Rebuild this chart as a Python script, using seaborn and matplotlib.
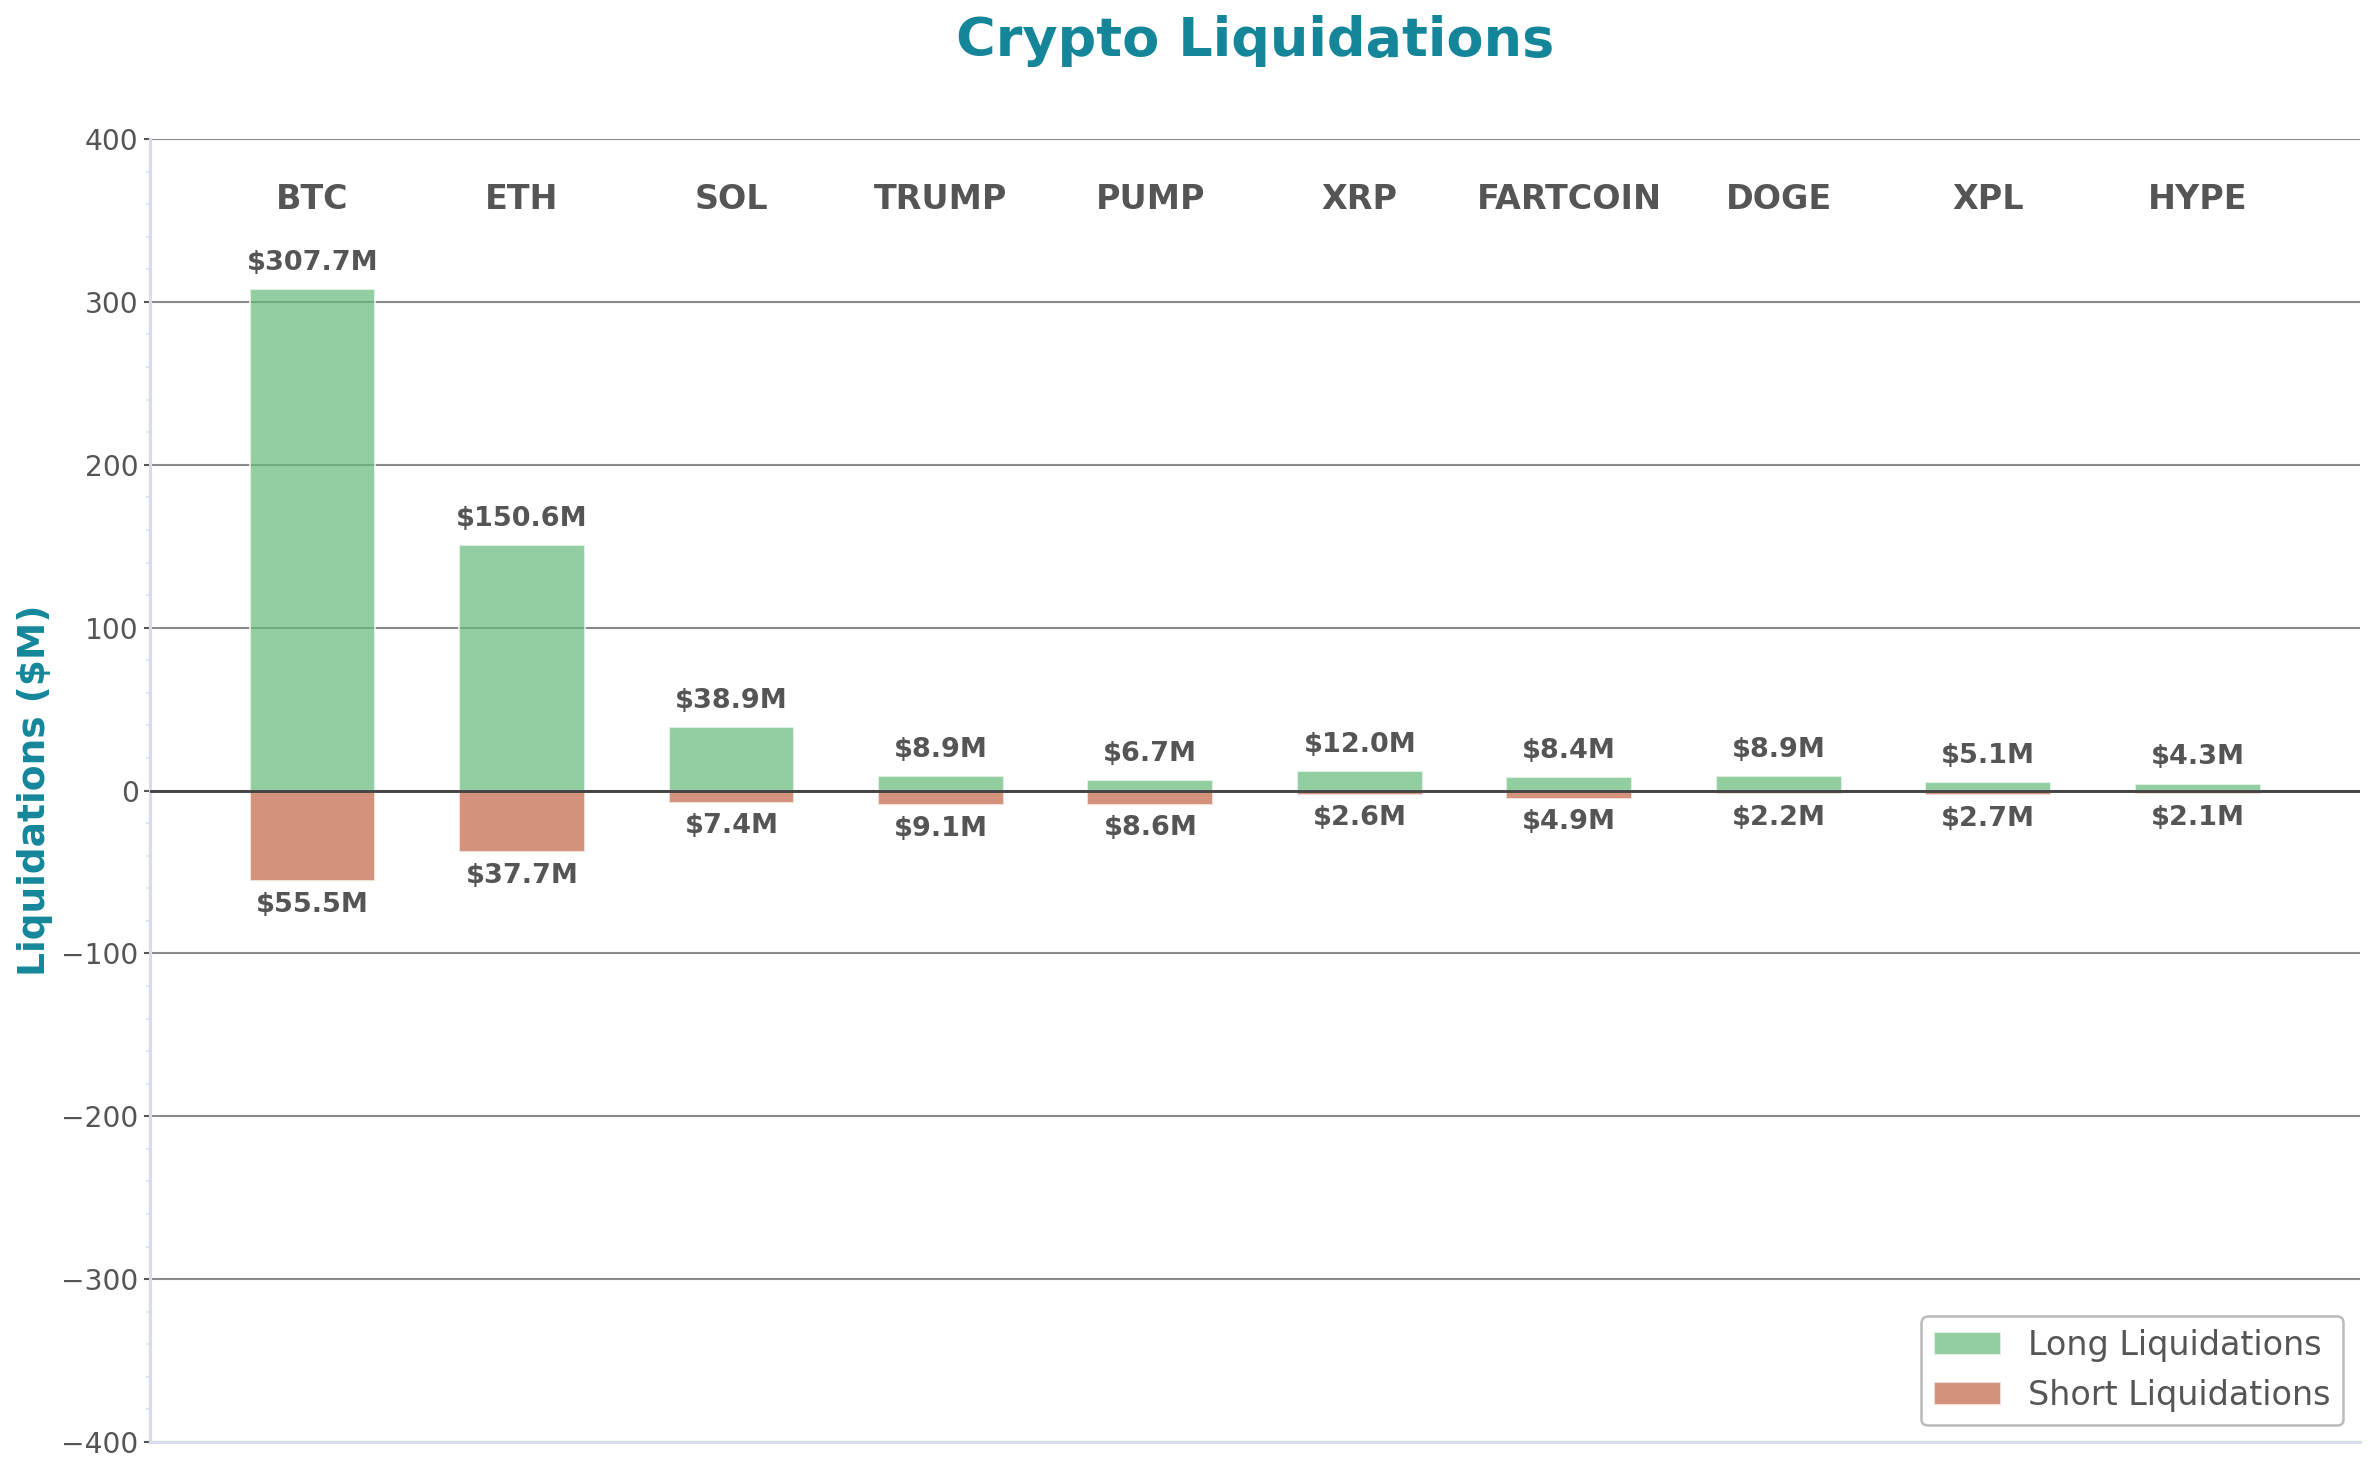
import matplotlib
matplotlib.use("Agg")
import matplotlib.pyplot as plt
import seaborn as sns
import pandas as pd
from matplotlib.ticker import MultipleLocator
from matplotlib.patches import Patch

coins = ["BTC", "ETH", "SOL", "TRUMP", "PUMP", "XRP", "FARTCOIN", "DOGE", "XPL", "HYPE"]
long_liq = [307.7, 150.6, 38.9, 8.9, 6.7, 12.0, 8.4, 8.9, 5.1, 4.3]
short_liq = [55.5, 37.7, 7.4, 9.1, 8.6, 2.6, 4.9, 2.2, 2.7, 2.1]
series_names = ["Long Liquidations", "Short Liquidations"]

sns.set_theme(style="white")
plt.rcParams["font.family"] = ["DejaVu Sans"]

TEAL = "#15869a"
TXT = "#555555"
GREEN = "#66ba79"
RED = "#c26244"
ALPHA = 0.7

df = pd.DataFrame({
    "coin": coins * 2,
    "value": long_liq + [-v for v in short_liq],
    "type": [series_names[0]] * len(coins) + [series_names[1]] * len(coins),
})

fig = plt.figure(figsize=(2375 / 150, 1476 / 150), dpi=150)
ax = fig.add_axes([0.0632, 0.023, 0.9305, 0.8828])

sns.barplot(data=df, x="coin", y="value", hue="type", dodge=False, width=0.6,
            palette={series_names[0]: GREEN, series_names[1]: RED},
            alpha=ALPHA, ax=ax, legend=False, zorder=2, saturation=1)

ax.set_ylim(-400, 400)
ax.set_xlim(-0.775, len(coins) - 1 + 0.775)
ax.yaxis.set_major_locator(MultipleLocator(100))
ax.yaxis.set_minor_locator(MultipleLocator(20))
ax.grid(axis="y", which="major", color="#8a8a8a", linewidth=1.0, zorder=0)
ax.set_axisbelow(True)
ax.axhline(0, color="#444444", linewidth=1.4, zorder=3)

ax.set_xticks([])
ax.set_xlabel("")
ax.tick_params(axis="y", which="major", labelsize=13.5, labelcolor=TXT, color="#555555",
               length=3, width=1, pad=2.5, left=True, direction="out")
ax.tick_params(axis="y", which="minor", color="#dde3ef", length=2, width=0.8, left=True)

for s in ["top", "right"]:
    ax.spines[s].set_visible(False)
for s in ["left", "bottom"]:
    ax.spines[s].set_color("#d5dcea")
    ax.spines[s].set_linewidth(1.5)

ax.set_ylabel("Liquidations ($M)", fontsize=18, fontweight="bold", color=TEAL, labelpad=4)
ax.set_title("Crypto Liquidations", fontsize=26, fontweight="bold", color=TEAL, pad=40)

for i, c in enumerate(coins):
    ax.text(i, 363, c, ha="center", va="center", fontsize=16, fontweight="bold", color=TXT)
    ax.text(i, long_liq[i] + 16, f"${long_liq[i]:.1f}M", ha="center", va="center",
            fontsize=13, fontweight="bold", color=TXT)
    ax.text(i, -short_liq[i] - 14.5, f"${short_liq[i]:.1f}M", ha="center", va="center",
            fontsize=13, fontweight="bold", color=TXT)

handles = [Patch(facecolor=GREEN, alpha=ALPHA, label=series_names[0]),
           Patch(facecolor=RED, alpha=ALPHA, label=series_names[1])]
leg = ax.legend(handles=handles, loc="lower right", fontsize=16, frameon=True,
                borderaxespad=0.5, handlelength=2.0, handletextpad=0.8)
leg.get_frame().set_edgecolor("#aaaaaa")
leg.get_frame().set_linewidth(1.2)
for t in leg.get_texts():
    t.set_color(TXT)

fig.savefig("out.png", dpi=150)
